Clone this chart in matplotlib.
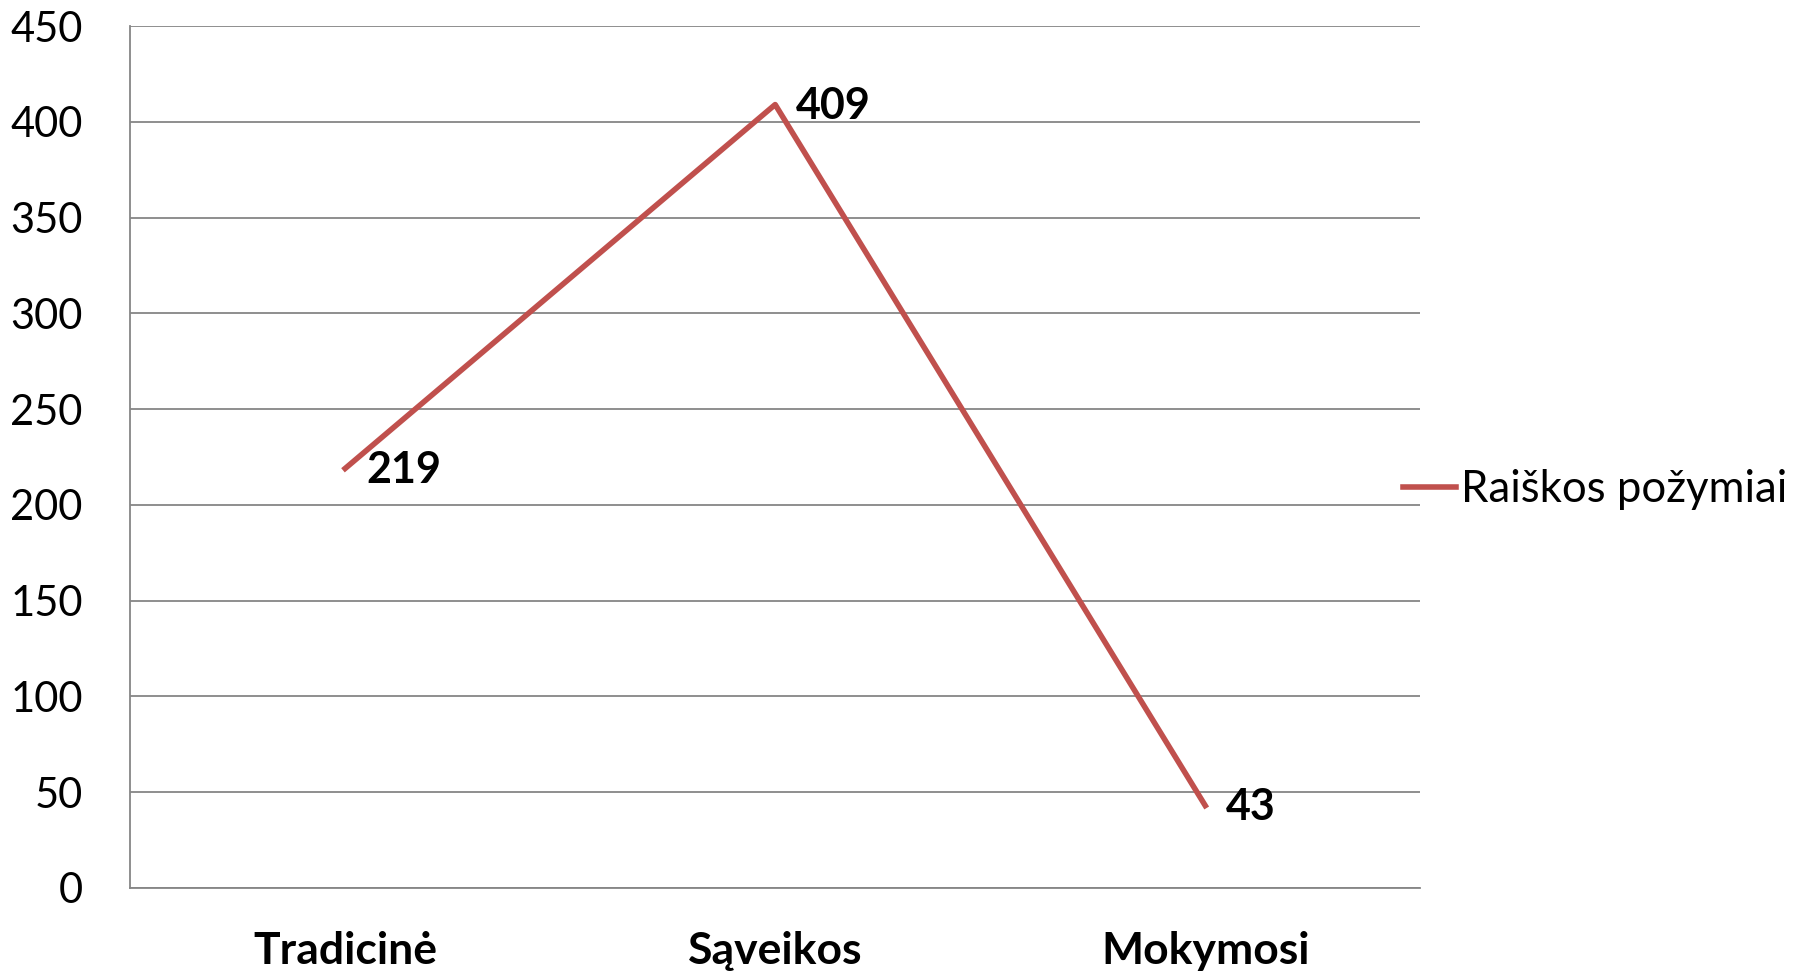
import matplotlib.pyplot as plt

categories = ["Tradicinė", "Sąveikos", "Mokymosi"]
values = [219, 409, 43]
series_name = "Raiškos požymiai"
yticks = [0, 50, 100, 150, 200, 250, 300, 350, 400, 450]

plt.rcParams["font.family"] = ["Lato", "DejaVu Sans"]

fig = plt.figure(figsize=(18.04, 9.71), dpi=100)
ax = fig.add_axes([0.0721, 0.0855, 0.7152, 0.8877])

x = list(range(len(categories)))
ax.plot(x, values, color="#C0504D", linewidth=4, label=series_name, zorder=3)

for xi, v in zip(x, values):
    ax.annotate(str(v), (xi, v), xytext=(15, -1), textcoords="offset points",
                ha="left", va="center", fontsize=31, fontweight="bold")

ax.set_xlim(-0.5, len(categories) - 0.5)
ax.set_ylim(0, 450)
ax.set_yticks(yticks)
ax.set_xticks(x)
ax.set_xticklabels(categories, fontsize=32, fontweight="bold")
ax.tick_params(axis="y", length=0, pad=34, labelsize=30)
ax.tick_params(axis="x", length=0, pad=31)
ax.grid(axis="y", color="#868686", linewidth=1.3)
ax.set_axisbelow(True)

for s in ["top", "right"]:
    ax.spines[s].set_visible(False)
for s in ["left", "bottom"]:
    ax.spines[s].set_color("#868686")
    ax.spines[s].set_linewidth(1.3)

fig.legend(loc="center left", bbox_to_anchor=(1403 / 1804, 1 - 490 / 971),
           frameon=False, fontsize=31.5, handlelength=1.2, handletextpad=0.13,
           borderpad=0, borderaxespad=0)

fig.savefig("out.png", dpi=100)
